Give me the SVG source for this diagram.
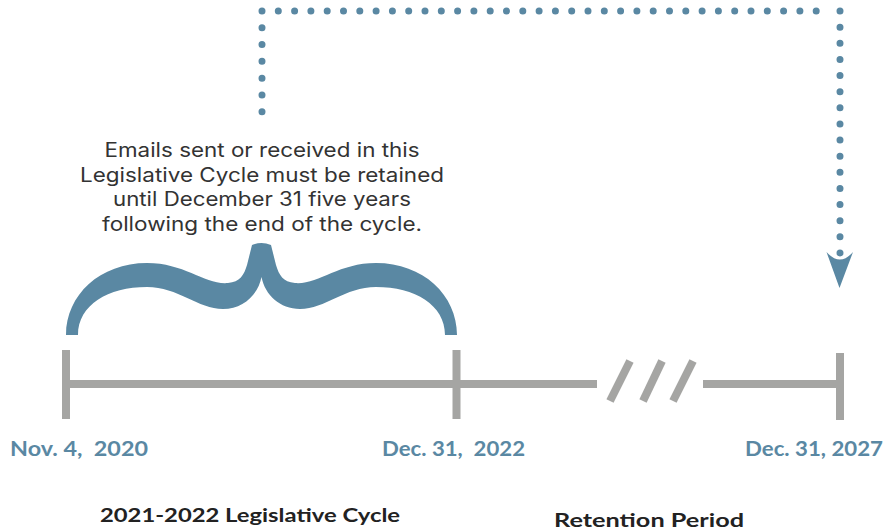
<svg xmlns="http://www.w3.org/2000/svg" width="896" height="531" viewBox="0 0 896 531">
<style>
.dot{fill:none;stroke:#5a88a3;stroke-width:7;stroke-linecap:round}
.tl{stroke:#a5a5a3;stroke-width:8;fill:none}
.para{font-family:"Inter","Open Sans","Liberation Sans",sans-serif;font-size:19.5px;fill:#333333;text-anchor:middle}
.date{font-family:"Lato","Liberation Sans",sans-serif;font-weight:bold;font-size:20px;fill:#5a88a3}
.lbl{font-family:"Lato","Liberation Sans",sans-serif;font-weight:bold;font-size:19px;fill:#222222}
</style>
<rect width="896" height="531" fill="#ffffff"/>
<g id="connectors">
  <path class="dot" d="M262,111.7 L262,11" stroke-dasharray="0 16.78"/>
  <path class="dot" d="M278.3,11 L817,11" stroke-dasharray="0 16.3"/>
  <path class="dot" d="M840,11 L840,254" stroke-dasharray="0 16.13"/>
  <path fill="#5a88a3" d="M826.5,252 Q840,267 853,252 L839.5,288 Z"/>
</g>
<g id="note">
  <text class="para" x="262" y="157" textLength="315" lengthAdjust="spacingAndGlyphs">Emails sent or received in this</text>
  <text class="para" x="262" y="181.5" textLength="364" lengthAdjust="spacingAndGlyphs">Legislative Cycle must be retained</text>
  <text class="para" x="262" y="206" textLength="298" lengthAdjust="spacingAndGlyphs">until December 31 five years</text>
  <text class="para" x="262" y="230.5" textLength="320" lengthAdjust="spacingAndGlyphs">following the end of the cycle.</text>
</g>
<g id="brace">
  <path fill="#5a88a3" d="M66,335 C66,295 100,263 147,263 C185,263 205,285 228,283 C240,282 244,275 247,265 L252,245 Q261.5,241 271,245 L276,265 C279,275 283,282 295,283 C318,285 338,263 376,263 C423,263 457,295 457,335 L445,335 C445,305 415,287 376,287 C345,287 325,309 300,309 C280,309 265,295 261.5,277 C258,295 243,309 223,309 C198,309 178,287 147,287 C108,287 78,305 78,335 Z"/>
</g>
<g id="timeline">
  <line class="tl" x1="66" y1="384" x2="597" y2="384"/>
  <line class="tl" x1="703" y1="384" x2="840" y2="384"/>
  <line class="tl" x1="66" y1="350" x2="66" y2="419"/>
  <line class="tl" x1="456.5" y1="350" x2="456.5" y2="419"/>
  <line class="tl" x1="840" y1="353" x2="840" y2="420"/>
  <line class="tl" x1="610" y1="401" x2="630" y2="361"/>
  <line class="tl" x1="643" y1="401" x2="662" y2="361"/>
  <line class="tl" x1="673" y1="401" x2="693" y2="361"/>
</g>
<g id="dates">
  <text class="date" x="10" y="456" xml:space="preserve" textLength="138" lengthAdjust="spacingAndGlyphs">Nov. 4,  2020</text>
  <text class="date" x="382" y="456" xml:space="preserve" textLength="143" lengthAdjust="spacingAndGlyphs">Dec. 31,  2022</text>
  <text class="date" x="745" y="456" textLength="138" lengthAdjust="spacingAndGlyphs">Dec. 31, 2027</text>
</g>
<g id="labels">
  <text class="lbl" x="100" y="522" textLength="300" lengthAdjust="spacingAndGlyphs">2021-2022 Legislative Cycle</text>
  <text class="lbl" x="554" y="527" textLength="190" lengthAdjust="spacingAndGlyphs">Retention Period</text>
</g>
</svg>
